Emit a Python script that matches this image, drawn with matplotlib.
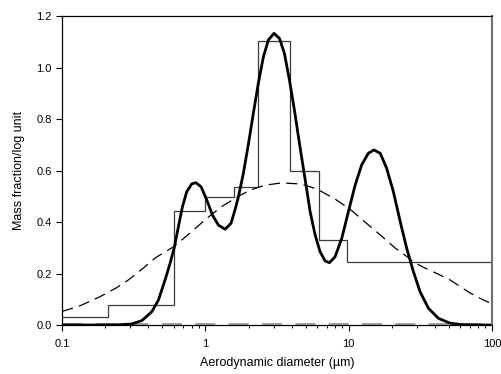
import numpy as np
import matplotlib
matplotlib.use('Agg')
import matplotlib.pyplot as plt
from matplotlib.ticker import FixedLocator, LogLocator, NullFormatter

# histogram bins (um) and heights
bin_edges = [0.1, 0.21, 0.6, 1.0, 1.59, 2.34, 3.92, 6.25, 9.8, 100]
bin_heights = [0.031, 0.077, 0.443, 0.497, 0.538, 1.103, 0.597, 0.330, 0.245]

# fitted multimodal curve
fit_d = [0.1, 0.15, 0.2, 0.25, 0.306, 0.360, 0.423, 0.470, 0.523, 0.567, 0.608,
         0.648, 0.691, 0.741, 0.803, 0.857, 0.933, 1.023, 1.12, 1.233, 1.372, 1.51,
         1.63, 1.70, 1.84, 2.0, 2.16, 2.34, 2.54, 2.75, 3.01, 3.29, 3.56, 3.86,
         4.18, 4.53, 4.89, 5.18, 5.38, 5.83, 6.31, 6.84, 7.33, 8.03, 8.95, 9.95,
         11.1, 12.3, 13.7, 15.0, 16.6, 18.4, 20.5, 22.9, 25.4, 28.3, 31.5, 36.0,
         42.3, 51, 63, 80, 100]
fit_v = [0.0, 0.0, 0.0, 0.001, 0.004, 0.017, 0.052, 0.097, 0.175, 0.240, 0.304,
         0.382, 0.459, 0.518, 0.548, 0.553, 0.537, 0.485, 0.427, 0.388, 0.372, 0.395,
         0.459, 0.498, 0.589, 0.706, 0.822, 0.939, 1.042, 1.107, 1.133, 1.113, 1.055, 0.951,
         0.835, 0.706, 0.589, 0.500, 0.440, 0.350, 0.285, 0.249, 0.242, 0.265, 0.337, 0.440,
         0.544, 0.621, 0.667, 0.680, 0.667, 0.609, 0.518, 0.401, 0.298, 0.207, 0.129, 0.065,
         0.026, 0.007, 0.001, 0.0, 0.0]

# single-mode curve (dashed)
uni_d = [0.1, 0.13, 0.184, 0.24, 0.29, 0.37, 0.45, 0.6, 0.8, 1.02, 1.3, 1.7, 2.05,
         2.6, 3.4, 4.58, 5.38, 6.0, 8.0, 10.2, 13, 17, 21, 26, 28.3, 33, 42, 51, 70,
         85, 100]
uni_v = [0.053, 0.072, 0.110, 0.145, 0.175, 0.222, 0.262, 0.304, 0.362, 0.414, 0.460,
         0.500, 0.524, 0.543, 0.552, 0.548, 0.537, 0.528, 0.490, 0.450, 0.400, 0.345,
         0.300, 0.262, 0.245, 0.225, 0.198, 0.175, 0.125, 0.100, 0.082]

plt.rcParams['font.family'] = ['Liberation Sans', 'DejaVu Sans']

fig = plt.figure(figsize=(5.01, 3.74), dpi=100)
ax = fig.add_axes([0.124, 0.131, 0.858, 0.826])

ax.plot([0.1, 100], [0.002, 0.002], color='#909090', lw=1.2, dashes=(12, 8))
ax.stairs(bin_heights, bin_edges, color='#3a3a3a', lw=0.9, baseline=None)
ax.plot(uni_d, uni_v, color='black', lw=0.9, dashes=(9, 5))
ax.plot(fit_d, fit_v, color='black', lw=2.0, solid_joinstyle='round')

ax.set_xscale('log')
ax.set_xlim(0.1, 100)
ax.set_ylim(0, 1.2)
ax.set_xticks([0.1, 1, 10, 100])
ax.set_xticklabels(['0.1', '1', '10', '100'])
ax.xaxis.set_minor_locator(LogLocator(base=10, subs=np.arange(2, 10)))
ax.xaxis.set_minor_formatter(NullFormatter())
ax.yaxis.set_major_locator(FixedLocator([0, 0.2, 0.4, 0.6, 0.8, 1.0, 1.2]))
ax.set_yticklabels(['0.0', '0.2', '0.4', '0.6', '0.8', '1.0', '1.2'])

ax.tick_params(axis='both', which='major', direction='out', length=4, width=0.8, labelsize=8)
ax.tick_params(axis='x', which='minor', direction='out', length=2.5, width=0.7)
ax.tick_params(axis='x', which='major', pad=6)

ax.spines['right'].set_color('#707070')
ax.spines['right'].set_linewidth(1.5)
for s in ['left', 'bottom', 'top']:
    ax.spines[s].set_linewidth(0.9)

ax.set_xlabel('Aerodynamic diameter (µm)', fontsize=9, labelpad=6)
ax.set_ylabel('Mass fraction/log unit', fontsize=9, labelpad=8)

plt.savefig('out.png', dpi=100)
